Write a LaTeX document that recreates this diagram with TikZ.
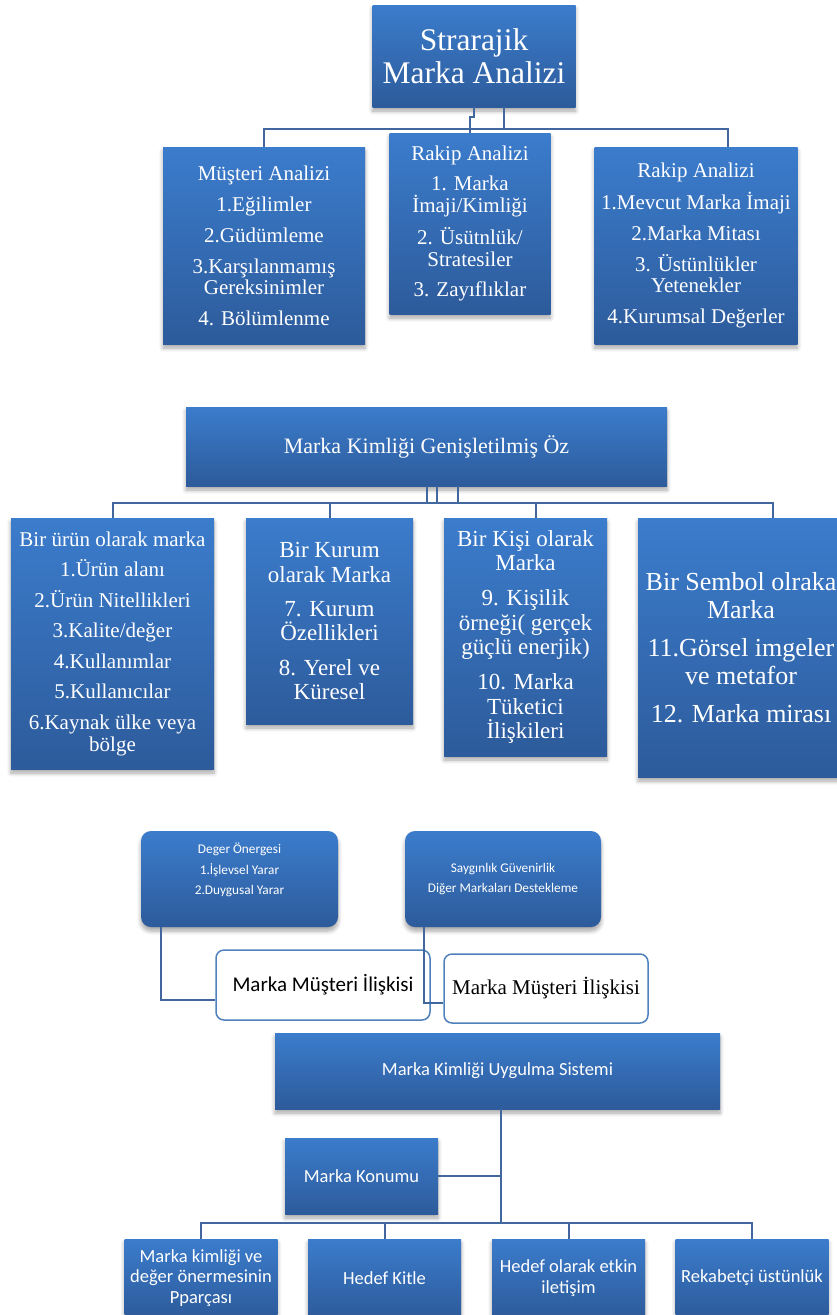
\documentclass[tikz,border=0pt]{standalone}
\usepackage{fontspec}
\setmainfont{Liberation Serif}
\newfontfamily\calibri{Carlito}
\usetikzlibrary{calc,shadows.blur}

\definecolor{boxtop}{HTML}{3B7CCC}
\definecolor{boxbottom}{HTML}{2D5B9B}
\definecolor{linkblue}{HTML}{41679E}
\definecolor{frameblue}{HTML}{4F81BD}

\tikzset{
  bluebox/.style={top color=boxtop, bottom color=boxbottom, draw=none, text=white,
    align=center, inner sep=0pt,
    blur shadow={shadow xshift=0pt, shadow yshift=-4pt, shadow blur radius=4pt,
      shadow blur steps=6, shadow opacity=35}},
  roundblue/.style={bluebox, rounded corners=10pt},
  whitebox/.style={draw=frameblue, line width=1.5pt, fill=white, rounded corners=8pt,
    align=center, inner sep=0pt},
  link/.style={draw=linkblue, line width=2pt},
  boxsize/.style 2 args={minimum width=#1, minimum height=#2},
  fs/.style 2 args={font={\fontsize{#1}{#2}\selectfont}},
}

\begin{document}
\begin{tikzpicture}[x=1pt, y=-1pt]
\useasboundingbox (0,0) rectangle (837,1315);

% ---------- strategic brand analysis ----------
\node[bluebox, boxsize={203pt}{102pt}, fs={31.5}{33}]
  (title) at (474,56) {Strarajik\\Marka Analizi};

\node[bluebox, boxsize={202pt}{197pt}, fs={21}{21}] (musteri) at (264,245.5)
  {Müşteri Analizi\\[10pt]1.Eğilimler\\[10pt]2.Güdümleme\\[10pt]3.Karşılanmamış\\Gereksinimler\\[10pt]4. Bölümlenme};

\node[bluebox, boxsize={161pt}{181pt}, fs={21}{21.5}] (rakipA) at (470,223.5)
  {Rakip Analizi\\[8.5pt]1. Marka\\İmaji/Kimliği\\[10pt]2. Üsütnlük/\\Stratesiler\\[9pt]3. Zayıflıklar};

\node[bluebox, boxsize={203pt}{197pt}, fs={21}{21}] (rakipB) at (696,245.5)
  {Rakip Analizi\\[10pt]1.Mevcut Marka İmaji\\[10pt]2.Marka Mitası\\[10pt]3. Üstünlükler\\Yetenekler\\[10pt]4.Kurumsal Değerler};

\draw[link] (title.south) -- ++(0,10) -| (rakipA.north);
\draw[link] ($(title.south)+(30,0)$) -- ++(0,22);
\draw[link] (musteri.north) |- ($(rakipB.north)+(32,-18)$) -- ($(rakipB.north)+(32,0)$);

% ---------- extended brand identity ----------
\node[bluebox, boxsize={481pt}{79pt}, fs={22}{24}] (kimlik) at (426.5,446.5)
  {Marka Kimliği Genişletilmiş Öz};

\node[bluebox, boxsize={203pt}{251pt}, fs={21}{22}] (urun) at (112.5,643.5)
  {Bir ürün olarak marka\\[8.5pt]1.Ürün alanı\\[8.5pt]2.Ürün Nitellikleri\\[8.5pt]3.Kalite/değer\\[8.5pt]4.Kullanımlar\\[8.5pt]5.Kullanıcılar\\[8.5pt]6.Kaynak ülke veya\\bölge};

\node[bluebox, boxsize={167pt}{206pt}, fs={23}{24.5}] (kurum) at (329.5,621)
  {Bir Kurum\\olarak Marka\\[9.5pt]7. Kurum\\Özellikleri\\[10pt]8. Yerel ve\\Küresel};

\node[bluebox, boxsize={163pt}{238pt}, fs={23}{24.5}] (kisi) at (525.5,637)
  {Bir Kişi olarak\\Marka\\[10.5pt]9. Kişilik\\örneği( gerçek\\güçlü enerjik)\\[10.5pt]10. Marka\\Tüketici\\İlişkileri};

\node[bluebox, boxsize={206pt}{259pt}, fs={26}{28}] (sembol) at (741,647.5)
  {Bir Sembol olraka\\Marka\\[10pt]11.Görsel imgeler\\ve metafor\\[10pt]12. Marka mirası};

\draw[link] (kimlik.south) -- ++(0,17);
\draw[link] ($(kimlik.south)+(10,0)$) -- ++(0,17);
\draw[link] ($(kimlik.south)+(31,0)$) -- ++(0,17);
\draw[link] (urun.north) |- ($(sembol.north)+(32,-15)$) -- ($(sembol.north)+(32,0)$);
\draw[link] (kurum.north) -- ++(0,-15);
\draw[link] ($(kisi.north)+(10,0)$) -- ++(0,-15);

% ---------- value proposition and relationship ----------
\node[roundblue, boxsize={197pt}{96pt}] (deger) at (239.5,879) {};
\node[text=white, align=center, font={\calibri\fontsize{13.3}{20.5}\selectfont}]
  (degertxt) at (239.5,870) {Deger Önergesi\\1.İşlevsel Yarar\\2.Duygusal Yarar};

\node[roundblue, boxsize={196pt}{96pt}, font={\calibri\fontsize{13.3}{20.5}\selectfont}]
  (saygin) at (503,879) {Saygınlık Güvenirlik\\Diğer Markaları Destekleme};

\node[whitebox, boxsize={214pt}{70pt}, font={\calibri\fontsize{21}{24}\selectfont}]
  (iliski1) at (323,985) {Marka Müşteri İlişkisi};
\node[whitebox, boxsize={204pt}{69pt}, fs={21}{24}]
  (iliski2) at (546,988.5) {Marka Müşteri İlişkisi};

\draw[link, line width=1.8pt] ($(deger.south west)+(20,0)$) |- ($(iliski1.west)+(0,15)$);
\draw[link, line width=1.8pt] ($(saygin.south west)+(19,0)$) |- ($(iliski2.west)+(0,14.5)$);

% ---------- implementation system ----------
\node[bluebox, boxsize={445pt}{76pt}, font={\calibri\fontsize{18.5}{21}\selectfont}]
  (uygulama) at (497.5,1071) {Marka Kimliği Uygulma Sistemi};

\node[bluebox, boxsize={153pt}{76pt}, font={\calibri\fontsize{18.5}{21}\selectfont}]
  (konum) at (361.5,1176) {Marka Konumu};

\tikzset{bottombox/.style={bluebox, boxsize={153pt}{78pt}, font={\calibri\fontsize{18.5}{20.5}\selectfont}}}
\node[bottombox] (parca) at (201,1278) {Marka kimliği ve\\değer önermesinin\\Pparçası};
\node[bottombox] (kitle) at (384.5,1278) {Hedef Kitle};
\node[bottombox] (iletisim) at (568.5,1278) {Hedef olarak etkin\\iletişim};
\node[bottombox] (rekabet) at (752,1278) {Rekabetçi üstünlük};

\coordinate (hub) at (501,1223);
\draw[link] ($(uygulama.south)+(3.5,0)$) -- (hub);
\draw[link] (konum.east) -- (konum.east -| hub);
\draw[link] (parca.north) |- (hub) -| (rekabet.north);
\draw[link] (kitle.north) -- (kitle.north |- hub);
\draw[link] (iletisim.north) -- (iletisim.north |- hub);
\end{tikzpicture}
\end{document}
